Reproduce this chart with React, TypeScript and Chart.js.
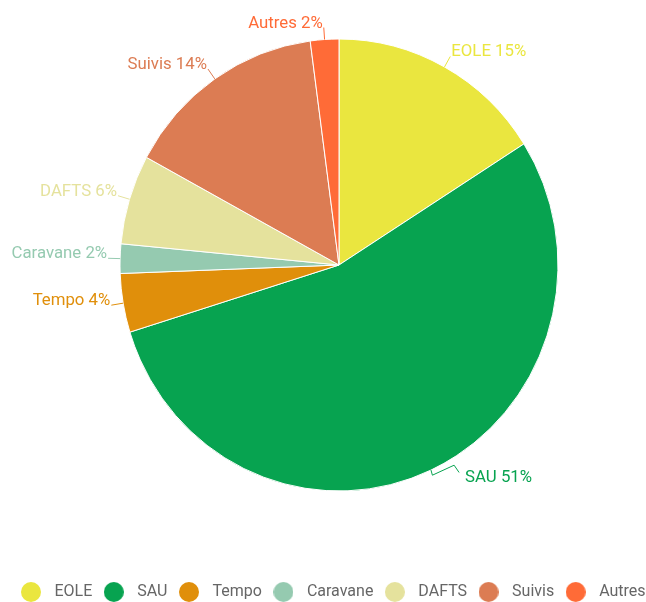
import React, { useEffect, useRef } from 'react';
import { Chart, registerables } from 'chart.js';

Chart.register(...registerables);

// ---- data ----
const categories = ['EOLE', 'SAU', 'Tempo', 'Caravane', 'DAFTS', 'Suivis', 'Autres'];
const values = [16.0, 54.2, 4.2, 2.1, 6.4, 15.0, 2.1];
const labelPercents = [15, 51, 4, 2, 6, 14, 2];
const colors = ['#EAE63F', '#07A350', '#E08F0B', '#95CAB0', '#E5E29D', '#DC7C53', '#FF6B37'];

// ---- style / layout ----
const W = 646;
const H = 602;
const PIE_CX = 339;
const PIE_CY = 265;
const RADIUS = 226;
const SQUEEZE_X = 0.969;
const FONT = 'Roboto, "Noto Sans", sans-serif';
const LABEL_FONT_SIZE = 16.8;
const LINE_LEN = 12;
const LEGEND_PAD = 6;
const LEGEND_BOX_W = 31;
const LEGEND_DOT = 20;
const LEGEND_FIRST_DOT_LEFT = 21;
const LEGEND_CENTER_Y = 592;
// special leader path for the SAU label (offsets from the arc anchor)
const customLeader: Record<number, { pts: number[][]; text: number[] }> = {
  1: { pts: [[1.4, 5.1], [23.1, -4.9], [28.1, 2.4]], text: [34.1, 12.1] },
};

function makeDot(color: string) {
  const c = document.createElement('canvas');
  c.width = LEGEND_DOT;
  c.height = LEGEND_DOT;
  const g = c.getContext('2d')!;
  g.fillStyle = color;
  g.beginPath();
  g.arc(LEGEND_DOT / 2, LEGEND_DOT / 2, LEGEND_DOT / 2, 0, Math.PI * 2);
  g.fill();
  return c;
}

const piePlugin = {
  id: 'piePlugin',
  afterLayout(chart: any) {
    const lg = chart.legend;
    if (!lg) return;
    const fontSize = 16;
    const curTop = lg.top + LEGEND_PAD + fontSize / 2;
    const dy = LEGEND_CENTER_Y - curTop;
    lg.top += dy;
    lg.bottom += dy;
    const lw = lg.lineWidths ? lg.lineWidths[0] : 0;
    const curX0 = (lg.left + LEGEND_PAD + lg.right - lw) / 2;
    const wantX0 = LEGEND_FIRST_DOT_LEFT - (LEGEND_BOX_W / 2 - LEGEND_DOT / 2);
    const dx = wantX0 - curX0;
    lg.left += dx;
    lg.right += dx;
  },
  beforeDatasetsDraw(chart: any) {
    const arc = chart.getDatasetMeta(0).data[0];
    const ctx = chart.ctx;
    ctx.save();
    ctx.translate(PIE_CX, PIE_CY);
    ctx.scale(SQUEEZE_X, 1);
    ctx.translate(-arc.x, -arc.y);
  },
  afterDatasetsDraw(chart: any) {
    const ctx = chart.ctx;
    ctx.restore();
    const meta = chart.getDatasetMeta(0);
    ctx.save();
    ctx.font = `${LABEL_FONT_SIZE}px ${FONT}`;
    ctx.textBaseline = 'alphabetic';
    ctx.lineWidth = 1;
    meta.data.forEach((el: any, i: number) => {
      const p = el.getProps(['startAngle', 'endAngle', 'outerRadius'], true);
      const mid = (p.startAngle + p.endAngle) / 2;
      const c = Math.cos(mid);
      const s = Math.sin(mid);
      const ax = PIE_CX + SQUEEZE_X * p.outerRadius * c;
      const ay = PIE_CY + p.outerRadius * s;
      const color = colors[i];
      const text = `${categories[i]} ${labelPercents[i]}%`;
      ctx.strokeStyle = color;
      ctx.fillStyle = color;
      ctx.beginPath();
      ctx.moveTo(ax, ay);
      let tx: number;
      let ty: number;
      let align: CanvasTextAlign;
      const custom = customLeader[i];
      if (custom) {
        custom.pts.forEach(([ox, oy]) => ctx.lineTo(ax + ox, ay + oy));
        tx = ax + custom.text[0];
        ty = ay + custom.text[1];
        align = 'left';
      } else {
        const ex = ax + LINE_LEN * c;
        const ey = ay + LINE_LEN * s;
        ctx.lineTo(ex, ey);
        if (c >= 0) {
          tx = ex + 1;
          align = 'left';
        } else {
          tx = ex - 1;
          align = 'right';
        }
        ty = ey;
      }
      ctx.stroke();
      ctx.textAlign = align;
      ctx.fillText(text, tx, ty);
    });
    ctx.restore();
  },
};

export default function App() {
  const ref = useRef<HTMLCanvasElement | null>(null);
  useEffect(() => {
    if (!ref.current) return;
    const dots = colors.map(makeDot);
    const chart = new Chart(ref.current, {
      type: 'pie',
      data: {
        labels: categories,
        datasets: [
          {
            data: values,
            backgroundColor: colors,
            borderColor: '#ffffff',
            borderWidth: 1,
            radius: RADIUS,
            clip: false as any,
          } as any,
        ],
      },
      options: {
        responsive: false,
        devicePixelRatio: 1,
        animation: false,
        layout: { padding: 0 },
        plugins: {
          tooltip: { enabled: false },
          legend: {
            display: true,
            position: 'bottom',
            labels: {
              usePointStyle: true,
              pointStyleWidth: LEGEND_BOX_W,
              padding: LEGEND_PAD,
              color: '#666666',
              font: { family: FONT, size: 16 },
              generateLabels: () =>
                categories.map((text, i) => ({
                  text,
                  fillStyle: colors[i],
                  strokeStyle: colors[i],
                  lineWidth: 0,
                  pointStyle: dots[i] as any,
                  hidden: false,
                  index: i,
                  fontColor: '#666666',
                })),
            },
          },
        },
      },
      plugins: [piePlugin],
    });
    return () => chart.destroy();
  }, []);
  return (
    <div style={{ position: 'absolute', left: 0, top: 0, width: W, height: H, background: '#fff' }}>
      <canvas ref={ref} width={W} height={H} style={{ display: 'block', width: W, height: H }} />
    </div>
  );
}
